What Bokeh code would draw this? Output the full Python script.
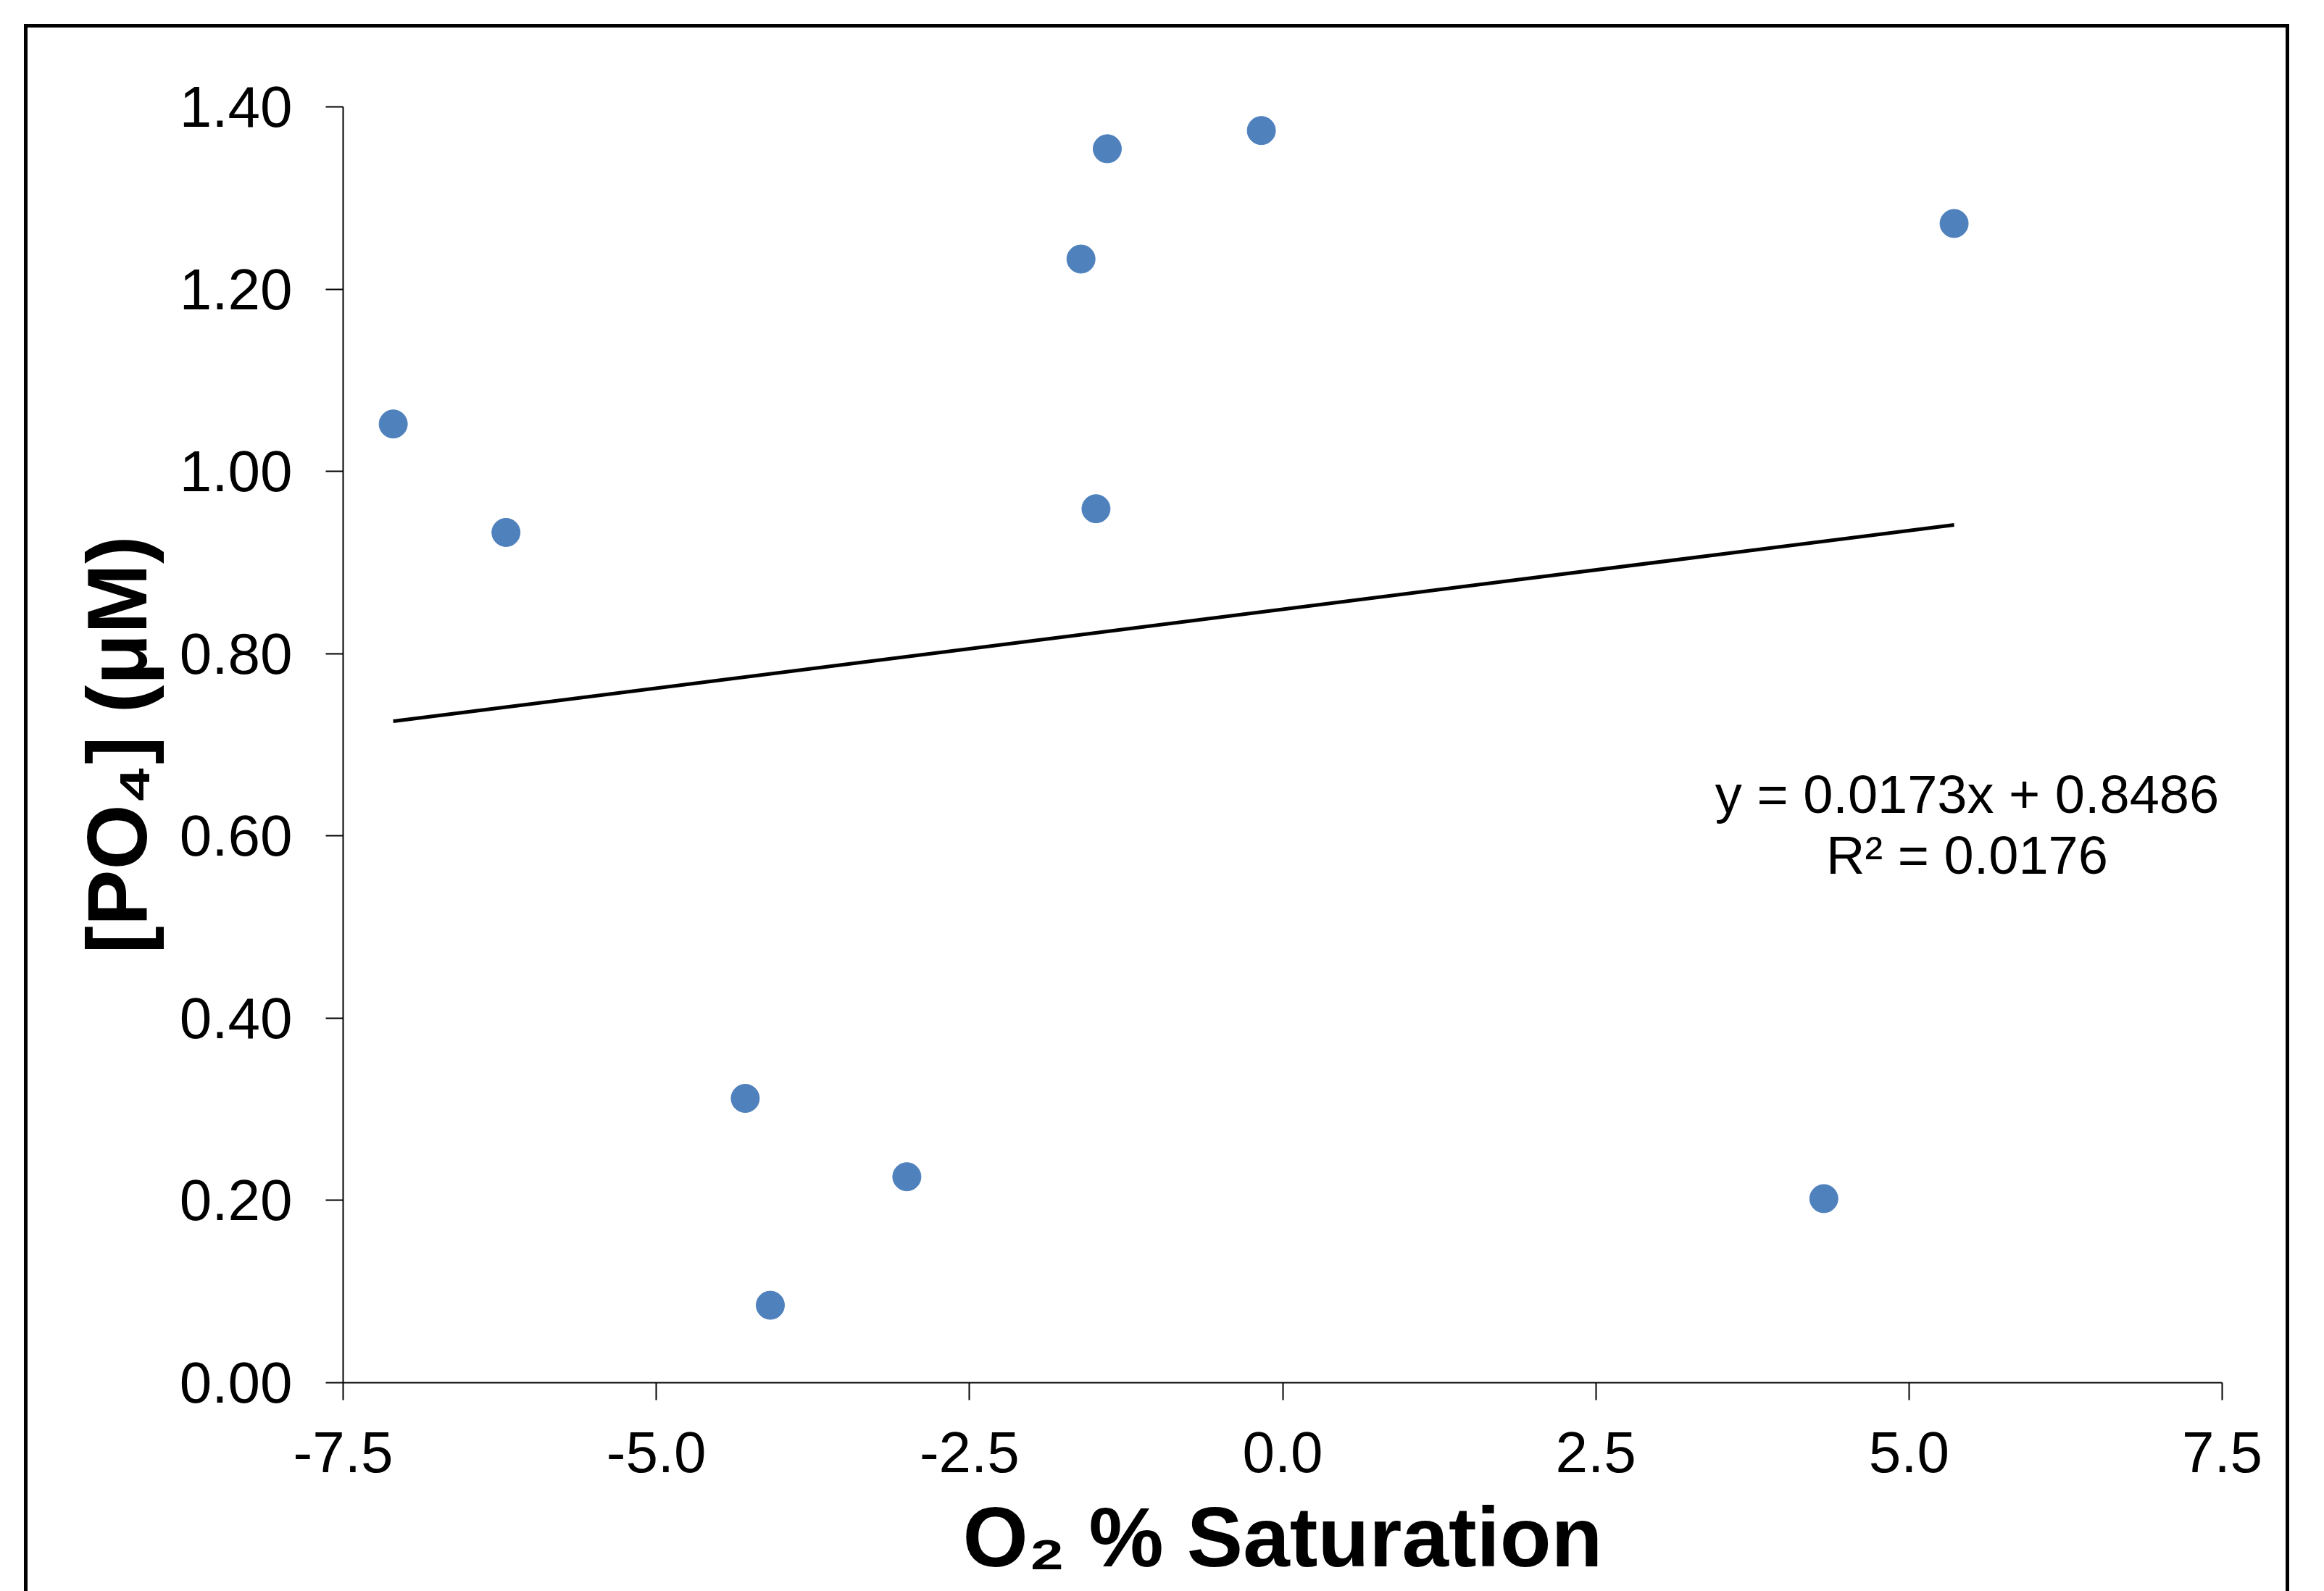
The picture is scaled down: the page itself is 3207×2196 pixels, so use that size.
from bokeh.plotting import figure
from bokeh.models import Range1d, FixedTicker, Label, NumeralTickFormatter
from bokeh.embed import file_html
from bokeh.resources import INLINE

# Data
x_o2 = [-7.10, -6.20, -4.29, -4.09, -3.00, -1.61, -1.49, -1.40, -0.17, 4.32, 5.36]
y_po4 = [1.052, 0.933, 0.312, 0.085, 0.226, 1.233, 0.959, 1.354, 1.374, 0.202, 1.272]

# Trendline shown on the chart
slope = 0.0173
intercept = 0.8486
r_squared = 0.0176

x_ticks = [-7.5, -5.0, -2.5, 0.0, 2.5, 5.0, 7.5]
y_ticks = [0.0, 0.2, 0.4, 0.6, 0.8, 1.0, 1.2, 1.4]
x_min, x_max = -7.5, 7.5
y_min, y_max = 0.0, 1.4

x_title = "O₂ % Saturation"
y_title = "[PO₄] (μM)"

FONT = "Liberation Sans"
W, H = 3200, 2196

# frame placement in pixels
FL, FR, FT, FB = 473, 3066, 147, 1908


def dx(px):
    return x_min + (px - FL) * (x_max - x_min) / (FR - FL)


def dy(py):
    return y_min + (FB - py) * (y_max - y_min) / (FB - FT)


p = figure(width=W, height=H, output_backend="svg", toolbar_location=None,
           x_range=Range1d(x_min, x_max), y_range=Range1d(y_min, y_max),
           min_border_left=FL, min_border_right=W - FR,
           min_border_top=FT, min_border_bottom=H - FB)
p.outline_line_color = None
p.xgrid.visible = False
p.ygrid.visible = False
p.background_fill_color = "white"
p.border_fill_color = None
p.styles = {
    "background-color": "white",
    "background-image": "linear-gradient(#000,#000), linear-gradient(#000,#000), linear-gradient(#000,#000)",
    "background-size": "5px 100%, 3126px 5px, 5px 100%",
    "background-position": "33px 33px, 33px 33px, 3154px 33px",
    "background-repeat": "no-repeat",
}

for ax in (p.xaxis[0], p.yaxis[0]):
    ax.axis_line_color = "black"
    ax.axis_line_width = 2
    ax.major_tick_line_color = "black"
    ax.major_tick_line_width = 2
    ax.major_tick_in = 0
    ax.major_tick_out = 24
    ax.minor_tick_line_color = None
    ax.major_label_text_font = FONT
    ax.major_label_text_font_size = "80px"
    ax.major_label_text_color = "black"
    ax.axis_label_text_font = FONT
    ax.axis_label_text_font_style = "bold"
    ax.axis_label_text_font_size = "116px"
    ax.axis_label_text_color = "black"

p.xaxis[0].ticker = FixedTicker(ticks=x_ticks)
p.xaxis[0].formatter = NumeralTickFormatter(format="0.0")
p.xaxis[0].major_label_standoff = 44
p.xaxis[0].axis_label = x_title
p.xaxis[0].axis_label_standoff = 22

p.yaxis[0].ticker = FixedTicker(ticks=y_ticks)
p.yaxis[0].formatter = NumeralTickFormatter(format="0.00")
p.yaxis[0].major_label_standoff = 46
p.yaxis[0].axis_label = y_title
p.yaxis[0].axis_label_standoff = 18

# trendline
tx = [min(x_o2), max(x_o2)]
ty = [slope * v + intercept for v in tx]
p.line(tx, ty, line_color="black", line_width=5)

# points
p.scatter(x_o2, y_po4, size=39, marker="circle", fill_color="#4F81BD",
          line_color="#4F81BD", line_width=1)

# trendline equation
for txt, mid in ((f"y = {slope}x + {intercept}", 1096), (f"R² = {r_squared}", 1180)):
    p.add_layout(Label(x=dx(2714), y=dy(mid), text=txt, text_align="center",
                       text_baseline="middle", text_font=FONT,
                       text_font_size="74px", text_color="black"))

open("out.html", "w").write(file_html(p, INLINE))
